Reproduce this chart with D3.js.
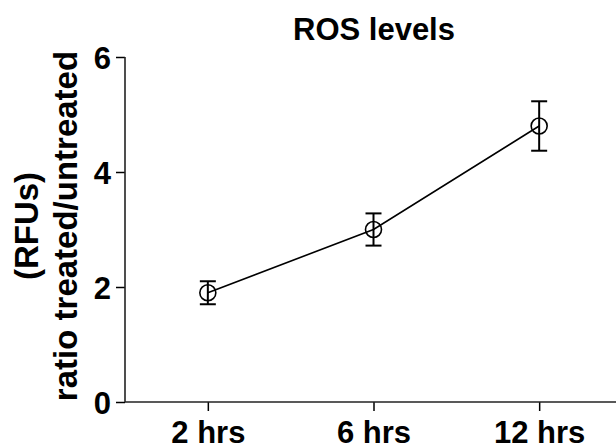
<!DOCTYPE html>
<html>
<head>
<meta charset="utf-8">
<script src="https://cdn.jsdelivr.net/npm/d3@7"></script>
<style>
  body { margin: 0; background: #fff; }
  svg text { font-family: "Liberation Sans", Arial, sans-serif; font-weight: bold; fill: #000; }
</style>
</head>
<body>
<div id="chart"></div>
<script>
// data
const categories = ["2 hrs", "6 hrs", "12 hrs"];
const means = [1.9, 3.0, 4.8];
const errors = [0.2, 0.28, 0.43];
const yTicks = [0, 2, 4, 6];

const width = 616;
const height = 445;
const plotLeft = 125;
const plotRight = 622;
const plotTop = 57;
const plotBottom = 402;

const svg = d3.select("#chart").append("svg")
    .attr("width", width)
    .attr("height", height);

const x = d3.scalePoint()
    .domain(categories)
    .range([plotLeft, plotRight])
    .padding(0.5);

const y = d3.scaleLinear()
    .domain([0, 6])
    .range([plotBottom, plotTop]);

// y axis
const yAxis = d3.axisLeft(y)
    .tickValues(yTicks)
    .tickFormat(d3.format("d"))
    .tickSize(9)
    .tickPadding(5);

const gy = svg.append("g")
    .attr("transform", "translate(" + plotLeft + ",0)")
    .call(yAxis);
gy.select(".domain").remove();
gy.selectAll(".tick line").attr("stroke", "#000").attr("stroke-width", 1.5);
gy.selectAll(".tick text")
    .style("font-size", "31px")
    .attr("dy", "0.36em");

// x axis
const xAxis = d3.axisBottom(x)
    .tickSize(9)
    .tickPadding(10);

const gx = svg.append("g")
    .attr("transform", "translate(0," + plotBottom + ")")
    .call(xAxis);
gx.select(".domain").remove();
gx.selectAll(".tick line").attr("stroke", "#000").attr("stroke-width", 1.5);
gx.selectAll(".tick text")
    .style("font-size", "31px")
    .attr("dy", "0.71em");

// axis lines (the x line runs off the right edge)
svg.append("line")
    .attr("x1", plotLeft).attr("x2", plotLeft)
    .attr("y1", y(6)).attr("y2", y(0))
    .attr("stroke", "#222").attr("stroke-width", 1.6);
svg.append("line")
    .attr("x1", plotLeft).attr("x2", width)
    .attr("y1", y(0)).attr("y2", y(0))
    .attr("stroke", "#222").attr("stroke-width", 1.6);

const pts = categories.map((c, i) => ({ c: c, m: means[i], e: errors[i] }));

// connecting line
svg.append("path")
    .datum(pts)
    .attr("fill", "none")
    .attr("stroke", "#000")
    .attr("stroke-width", 1.6)
    .attr("d", d3.line().x(d => x(d.c)).y(d => y(d.m)));

// error bars
const eb = svg.append("g").selectAll("g").data(pts).enter().append("g")
    .attr("stroke", "#000")
    .attr("stroke-width", 2);
eb.append("line")
    .attr("x1", d => x(d.c)).attr("x2", d => x(d.c))
    .attr("y1", d => y(d.m + d.e)).attr("y2", d => y(d.m - d.e));
eb.append("line")
    .attr("x1", d => x(d.c) - 8).attr("x2", d => x(d.c) + 8)
    .attr("y1", d => y(d.m + d.e)).attr("y2", d => y(d.m + d.e));
eb.append("line")
    .attr("x1", d => x(d.c) - 8).attr("x2", d => x(d.c) + 8)
    .attr("y1", d => y(d.m - d.e)).attr("y2", d => y(d.m - d.e));

// open circle markers
svg.append("g").selectAll("circle").data(pts).enter().append("circle")
    .attr("cx", d => x(d.c))
    .attr("cy", d => y(d.m))
    .attr("r", 8)
    .attr("fill", "none")
    .attr("stroke", "#000")
    .attr("stroke-width", 1.6);

// title
svg.append("text")
    .attr("x", 374)
    .attr("y", 40)
    .attr("text-anchor", "middle")
    .style("font-size", "31px")
    .text("ROS levels");

// y label, two lines
const yl = svg.append("text")
    .attr("transform", "translate(0,226) rotate(-90)")
    .attr("text-anchor", "middle")
    .style("font-size", "33px");
yl.append("tspan").attr("x", 0).attr("y", 38).text("(RFUs)");
yl.append("tspan").attr("x", 0).attr("y", 77).text("ratio treated/untreated");
</script>
</body>
</html>
